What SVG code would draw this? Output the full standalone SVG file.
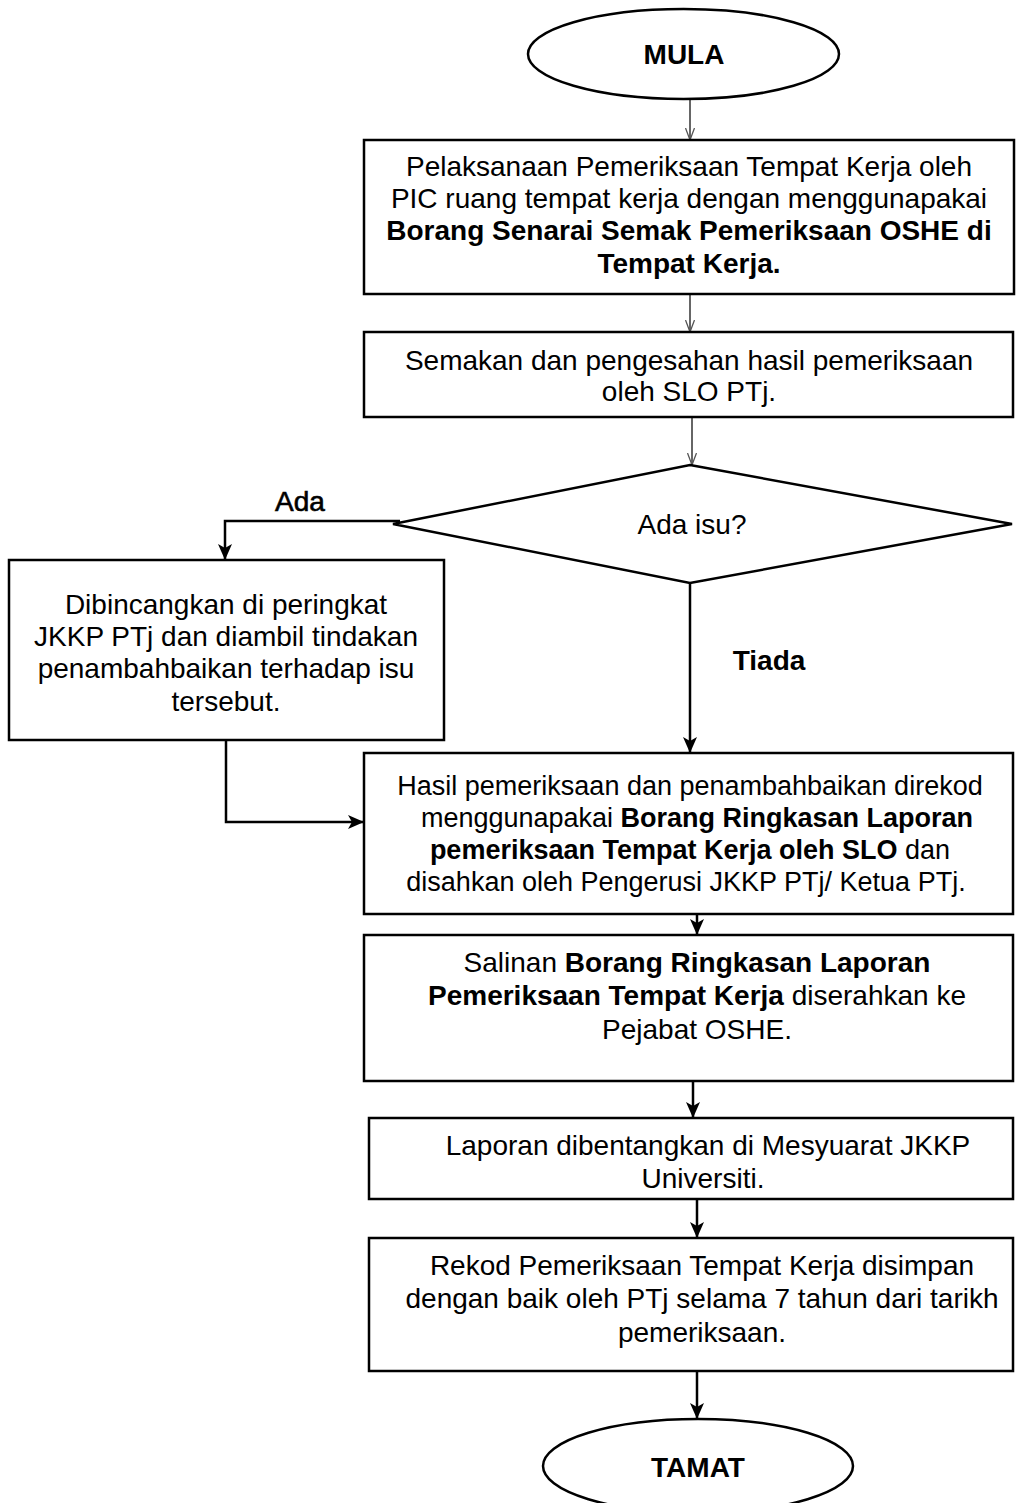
<svg xmlns="http://www.w3.org/2000/svg" width="1021" height="1503" viewBox="0 0 1021 1503">
<defs>
<marker id="open" viewBox="0 0 12 10" refX="12" refY="5" markerWidth="12" markerHeight="10" markerUnits="userSpaceOnUse" orient="auto">
<path d="M0,0.5 L12,5 L0,9.5" fill="none" stroke="#555" stroke-width="1.3"/>
</marker>
<marker id="fill" viewBox="0 0 16 14" refX="16" refY="7" markerWidth="16" markerHeight="14" markerUnits="userSpaceOnUse" orient="auto">
<path d="M0,0 L16,7 L0,14 L4,7 Z" fill="#000"/>
</marker>
</defs>
<style>
.box{fill:#fff;stroke:#000;stroke-width:2.5}
.t{font-family:"Liberation Sans",Arial,sans-serif;font-size:28px;fill:#000;text-anchor:middle}
.s{font-size:27px}
.b{font-weight:bold}
.thin{fill:none;stroke:#333;stroke-width:1.5}
.thick{fill:none;stroke:#000;stroke-width:2.5}
</style>
<rect width="1021" height="1503" fill="#fff"/>

<g id="connectors">
<line class="thin" x1="690" y1="99" x2="690" y2="140" marker-end="url(#open)"/>
<line class="thin" x1="690" y1="294" x2="690" y2="332" marker-end="url(#open)"/>
<line class="thin" x1="692" y1="417" x2="692" y2="465" marker-end="url(#open)"/>
<polyline class="thick" points="400,521 225,521 225,560" marker-end="url(#fill)"/>
<line class="thick" x1="690" y1="583" x2="690" y2="753" marker-end="url(#fill)"/>
<polyline class="thick" points="226,730 226,822 364,822" marker-end="url(#fill)"/>
<line class="thick" x1="697" y1="914" x2="697" y2="935" marker-end="url(#fill)"/>
<line class="thick" x1="693" y1="1081" x2="693" y2="1118" marker-end="url(#fill)"/>
<line class="thick" x1="697" y1="1199" x2="697" y2="1238" marker-end="url(#fill)"/>
<line class="thick" x1="697" y1="1371" x2="697" y2="1419" marker-end="url(#fill)"/>
<text class="t" x="300" y="511" style="stroke:#000;stroke-width:0.6">Ada</text>
<text class="t b" x="769" y="670">Tiada</text>
</g>

<g id="mula">
<ellipse class="box" cx="683.5" cy="54" rx="155.5" ry="45"/>
<text class="t b" x="684" y="64">MULA</text>
</g>

<g id="pelaksanaan">
<rect class="box" x="364" y="140" width="650" height="154"/>
<text class="t" x="689" y="176">Pelaksanaan Pemeriksaan Tempat Kerja oleh</text>
<text class="t" x="689" y="208">PIC ruang tempat kerja dengan menggunapakai</text>
<text class="t b" x="689" y="240">Borang Senarai Semak Pemeriksaan OSHE di</text>
<text class="t b" x="689" y="273">Tempat Kerja.</text>
</g>

<g id="semakan">
<rect class="box" x="364" y="332" width="649" height="85"/>
<text class="t" x="689" y="370">Semakan dan pengesahan hasil pemeriksaan</text>
<text class="t" x="689" y="401">oleh SLO PTj.</text>
</g>

<g id="ada-isu">
<polygon class="box" points="690,465 1012,524 690,583 393,524"/>
<text class="t" x="692" y="534">Ada isu?</text>
</g>

<g id="dibincangkan">
<rect class="box" x="9" y="560" width="435" height="180"/>
<text class="t" x="226" y="614">Dibincangkan di peringkat</text>
<text class="t" x="226" y="646">JKKP PTj dan diambil tindakan</text>
<text class="t" x="226" y="678">penambahbaikan terhadap isu</text>
<text class="t" x="226" y="711">tersebut.</text>
</g>

<g id="hasil">
<rect class="box" x="364" y="753" width="649" height="161"/>
<text class="t s" x="690" y="795">Hasil pemeriksaan dan penambahbaikan direkod</text>
<text class="t s" x="697" y="827">menggunapakai <tspan class="b">Borang Ringkasan Laporan</tspan></text>
<text class="t s" x="690" y="859"><tspan class="b">pemeriksaan Tempat Kerja oleh SLO</tspan> dan</text>
<text class="t s" x="686" y="891">disahkan oleh Pengerusi JKKP PTj/ Ketua PTj.</text>
</g>

<g id="salinan">
<rect class="box" x="364" y="935" width="649" height="146"/>
<text class="t" x="697" y="972">Salinan <tspan class="b">Borang Ringkasan Laporan</tspan></text>
<text class="t" x="697" y="1005"><tspan class="b">Pemeriksaan Tempat Kerja</tspan> diserahkan ke</text>
<text class="t" x="697" y="1039">Pejabat OSHE.</text>
</g>

<g id="laporan">
<rect class="box" x="369" y="1118" width="644" height="81"/>
<text class="t" x="708" y="1155">Laporan dibentangkan di Mesyuarat JKKP</text>
<text class="t" x="703" y="1188">Universiti.</text>
</g>

<g id="rekod">
<rect class="box" x="369" y="1238" width="644" height="133"/>
<text class="t" x="702" y="1275">Rekod Pemeriksaan Tempat Kerja disimpan</text>
<text class="t" x="702" y="1308">dengan baik oleh PTj selama 7 tahun dari tarikh</text>
<text class="t" x="702" y="1342">pemeriksaan.</text>
</g>

<g id="tamat">
<ellipse class="box" cx="698" cy="1466" rx="155" ry="47"/>
<text class="t b" x="698" y="1477">TAMAT</text>
</g>
</svg>
